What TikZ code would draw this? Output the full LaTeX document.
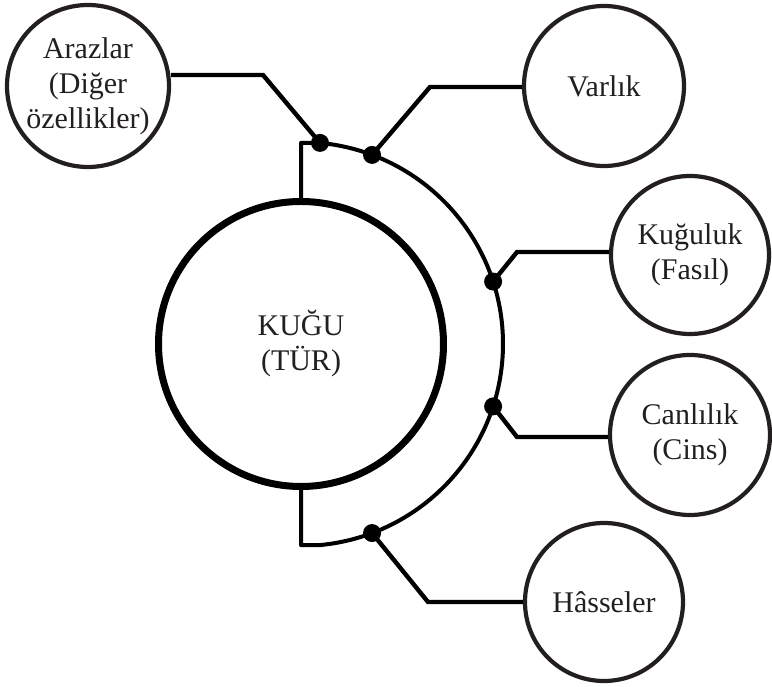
\documentclass[tikz,border=0pt]{standalone}
\usepackage{fontspec}
\setmainfont{Liberation Serif}
\definecolor{ink}{HTML}{231F20}
\begin{document}
\begin{tikzpicture}[x=1pt,y=1pt,
  bubble/.style={circle,draw=ink,line width=4.2pt,inner sep=0pt,align=center,
    text=ink,font=\fontsize{30}{35}\selectfont},
  link/.style={draw=black,line width=4.4pt,line join=miter},
  joint/.style={circle,fill=black,inner sep=0pt,minimum size=18pt}]
\useasboundingbox (0,0) rectangle (772,687);
% central circle
\node[circle,draw=black,line width=7pt,inner sep=0pt,minimum size=285pt,align=center,
  text=ink,font=\fontsize{30}{35}\selectfont] (kugu) at (301,343) {KUĞU\\(TÜR)};
% outer circles
\node[bubble,minimum size=162pt] (araz) at (88,601) {Arazlar\\(Diğer\\özellikler)};
\node[bubble,minimum size=160pt] (varlik) at (604,601) {Varlık};
\node[bubble,minimum size=158pt] (kuguluk) at (690,432) {Kuğuluk\\(Fasıl)};
\node[bubble,minimum size=160pt] (canlilik) at (690,252) {Canlılık\\(Cins)};
\node[bubble,minimum size=158pt] (hasseler) at (604,85) {Hâsseler};
% arc and stubs
\coordinate (C) at (301,343);
\path (C) ++(84.6:202) coordinate (aS);
\path (C) ++(69.4:202) coordinate (aV);
\path (C) ++(18:202) coordinate (aK);
\path (C) ++(-18:202) coordinate (aC);
\path (C) ++(-69.4:202) coordinate (aH);
\path (C) ++(-84.6:202) coordinate (aE);
\draw[black,line width=4pt,line join=round] (kugu.north) -- (aS -| kugu.north) -- (aS)
  arc[start angle=84.6,end angle=-84.6,radius=202] -- (aE -| kugu.south) -- (kugu.south);
% bends
\coordinate (bA) at (263,612);
\coordinate (bV) at (430,600);
\coordinate (bK) at (517,435);
\coordinate (bC) at (517,250);
\coordinate (bH) at (428,85);
\draw[link] (aS) -- (bA) -- (bA -| araz.east);
\draw[link] (aV) -- (bV) -- (bV -| varlik.west);
\draw[link] (aK) -- (bK) -- (bK -| kuguluk.west);
\draw[link] (aC) -- (bC) -- (bC -| canlilik.west);
\draw[link] (aH) -- (bH) -- (bH -| hasseler.west);
% joints
\node[joint] (jA) at (aS) {};
\node[joint] (jV) at (aV) {};
\node[joint] (jK) at (aK) {};
\node[joint] (jC) at (aC) {};
\node[joint] (jH) at (aH) {};
\end{tikzpicture}
\end{document}
